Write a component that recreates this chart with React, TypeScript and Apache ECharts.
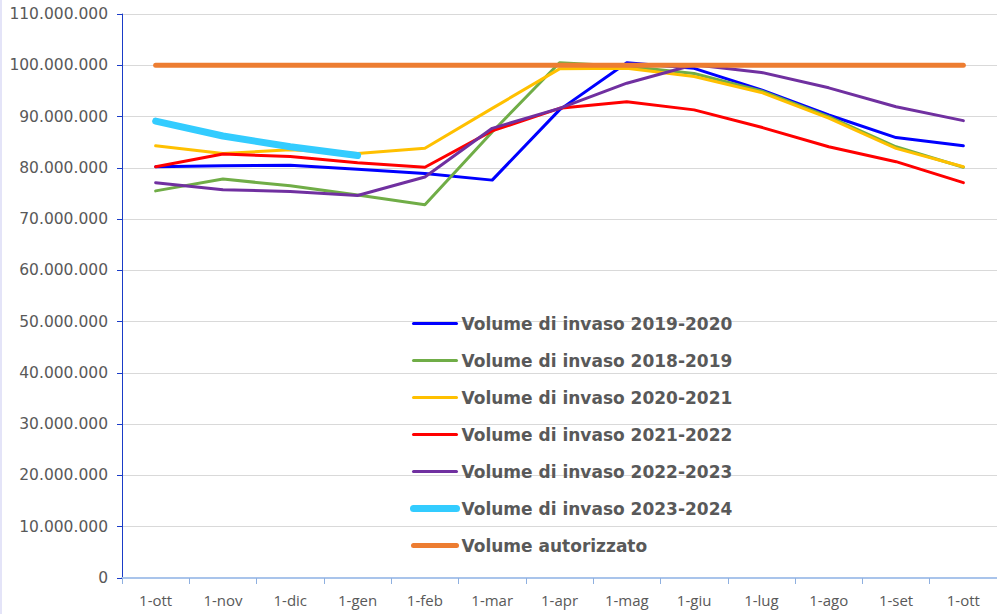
import React, { useEffect, useRef } from "react";
import * as echarts from "echarts";

const categories = ["1-ott", "1-nov", "1-dic", "1-gen", "1-feb", "1-mar", "1-apr", "1-mag", "1-giu", "1-lug", "1-ago", "1-set", "1-ott"];

const vol2019_2020 = [80200000, 80400000, 80500000, 79700000, 78900000, 77600000, 91300000, 100500000, 99400000, 95200000, 90300000, 85900000, 84300000];
const vol2018_2019 = [75500000, 77800000, 76500000, 74700000, 72800000, 87000000, 100500000, 99800000, 98400000, 95000000, 90000000, 84100000, 80100000];
const vol2020_2021 = [84300000, 82800000, 83500000, 82800000, 83800000, 91600000, 99300000, 99400000, 97800000, 94700000, 89700000, 83800000, 80200000];
const vol2021_2022 = [80200000, 82700000, 82200000, 81000000, 80100000, 87200000, 91600000, 92900000, 91300000, 87900000, 84100000, 81200000, 77100000];
const vol2022_2023 = [77100000, 75700000, 75400000, 74600000, 78200000, 87700000, 91600000, 96500000, 100100000, 98600000, 95600000, 91900000, 89200000];
const vol2023_2024 = [89100000, 86200000, 84100000, 82400000, null, null, null, null, null, null, null, null, null];
const volAutorizzato = [100000000, 100000000, 100000000, 100000000, 100000000, 100000000, 100000000, 100000000, 100000000, 100000000, 100000000, 100000000, 100000000];

const seriesNames = [
  "Volume di invaso 2019-2020",
  "Volume di invaso 2018-2019",
  "Volume di invaso 2020-2021",
  "Volume di invaso 2021-2022",
  "Volume di invaso 2022-2023",
  "Volume di invaso 2023-2024",
  "Volume autorizzato",
];
const seriesData = [vol2019_2020, vol2018_2019, vol2020_2021, vol2021_2022, vol2022_2023, vol2023_2024, volAutorizzato];
const seriesColors = ["#0000ff", "#70ad47", "#ffc000", "#ff0000", "#7030a0", "#33ccff", "#ed7d31"];
const seriesWidths = [3, 3, 3, 3, 3, 7, 5];

const fmt = (v: number) => String(v).replace(/\B(?=(\d{3})+(?!\d))/g, ".");

export default function App() {
  const ref = useRef<HTMLDivElement>(null);
  useEffect(() => {
    if (!ref.current) return;
    const chart = echarts.init(ref.current, undefined, { renderer: "svg" });
    chart.setOption({
      animation: false,
      backgroundColor: "#ffffff",
      grid: { left: 120, right: 0, top: 14, bottom: 36, containLabel: false },
      legend: {
        orient: "vertical",
        left: 403,
        top: 310,
        itemWidth: 43,
        itemHeight: 14,
        itemGap: 20,
        data: seriesNames.map((name, i) => ({
          name,
          itemStyle: { opacity: 0 },
          lineStyle: { width: seriesWidths[i], color: seriesColors[i], cap: "round" },
        })),
        itemStyle: { opacity: 0 },
        textStyle: {
          fontFamily: "DejaVu Sans",
          fontWeight: "bold",
          fontSize: 17,
          color: "#595959",
        },
      },
      xAxis: {
        type: "category",
        data: categories,
        boundaryGap: true,
        axisLine: { lineStyle: { color: "#a9c4eb", width: 2 } },
        axisTick: { show: true, alignWithLabel: false, length: 6, lineStyle: { color: "#8fb0e0", width: 1 } },
        axisLabel: { fontFamily: "Open Sans", fontSize: 15, color: "#595959", margin: 14 },
        splitLine: { show: false },
      },
      yAxis: {
        type: "value",
        min: 0,
        max: 110000000,
        interval: 10000000,
        axisLine: { show: true, lineStyle: { color: "#1a3cc8", width: 1 } },
        axisTick: { show: true, length: 5, lineStyle: { color: "#1a3cc8" } },
        axisLabel: {
          fontFamily: "DejaVu Sans",
          fontSize: 15.5,
          color: "#595959",
          margin: 14,
          formatter: (v: number) => fmt(v),
        },
        splitLine: { show: true, lineStyle: { color: "#d9d9d9", width: 1 } },
      },
      series: seriesNames.map((name, i) => ({
        name,
        type: "line",
        data: seriesData[i],
        symbol: "none",
        showSymbol: false,
        connectNulls: false,
        color: seriesColors[i],
        lineStyle: { color: seriesColors[i], width: seriesWidths[i], cap: "round", join: "round" },
        z: i === 6 ? 5 : 2,
      })),
    });
    return () => chart.dispose();
  }, []);
  return (
    <div
      style={{
        position: "fixed",
        left: 0,
        top: 0,
        width: 997,
        height: 614,
        background: "#ffffff",
        borderLeft: "2px solid #e4e4f8",
        boxSizing: "border-box",
      }}
    >
      <div ref={ref} style={{ width: 995, height: 614 }} />
    </div>
  );
}
